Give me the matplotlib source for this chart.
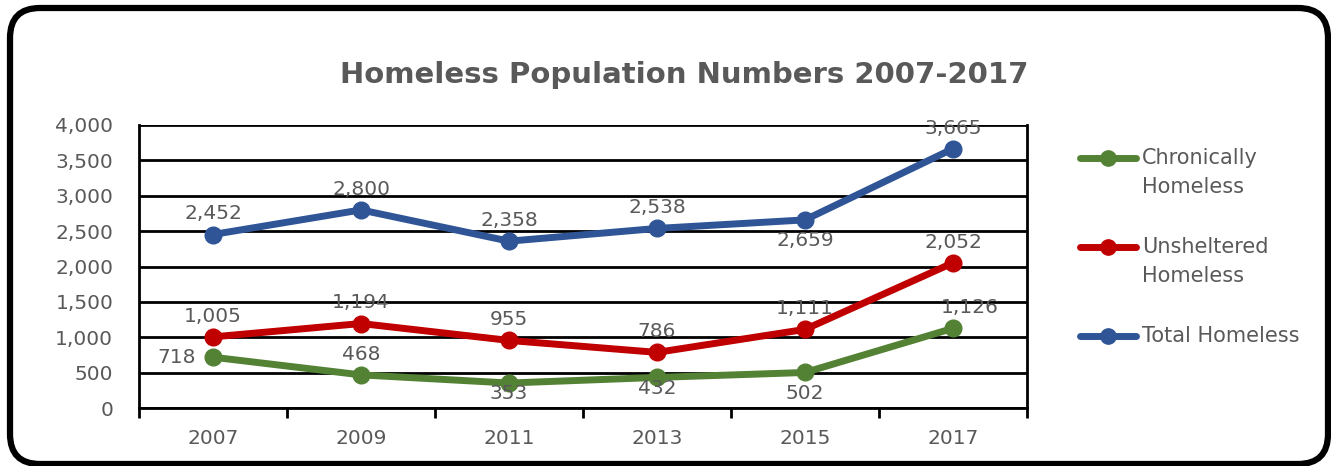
import matplotlib
matplotlib.use("Agg")
import matplotlib.pyplot as plt
from matplotlib.patches import FancyBboxPatch
from matplotlib.lines import Line2D
from matplotlib.transforms import IdentityTransform

years = ["2007", "2009", "2011", "2013", "2015", "2017"]
chronic = [718, 468, 353, 432, 502, 1126]
unsheltered = [1005, 1194, 955, 786, 1111, 2052]
total = [2452, 2800, 2358, 2538, 2659, 3665]
series_names = [["Chronically", "Homeless"], ["Unsheltered", "Homeless"], ["Total Homeless"]]
colors = ["#548235", "#C00000", "#2F5597"]
# data label placement per point
pos_chronic = ["left", "above", "below_close", "below_close", "below", "above_r"]
pos_unsh = ["above"] * 6
pos_total = ["above", "above", "above", "above", "below", "above"]

W, H = 1331, 466
fig = plt.figure(figsize=(W / 100, H / 100), dpi=100)
fig.patch.set_facecolor("white")
GRAY = "#595959"

def py(y_from_top):
    return H - y_from_top

# rounded border (pixel coordinates)
border = FancyBboxPatch((10, py(464)), 1318, 456,
                        boxstyle="round,pad=0,rounding_size=30",
                        transform=IdentityTransform(), fill=False,
                        edgecolor="black", linewidth=4.5)
fig.patches.append(border)

L, R, B, T = 139, 1027, 408, 125
ax = fig.add_axes([L / W, 1 - B / H, (R - L) / W, (B - T) / H])
ax.set_xlim(-0.5, 5.5)
ax.set_ylim(0, 4000)
ax.set_yticks(range(0, 4001, 500))
ax.set_yticklabels([f"{v:,}" for v in range(0, 4001, 500)])
ax.yaxis.grid(True, color="black", linewidth=2)
ax.set_axisbelow(True)
ax.spines["top"].set_visible(False)
for s in ["left", "right", "bottom"]:
    ax.spines[s].set_linewidth(2)
ax.tick_params(axis="y", length=0, pad=18.5, labelsize=14.5, labelcolor=GRAY)
ax.set_xticks([i - 0.5 for i in range(7)])
ax.set_xticklabels([])
ax.tick_params(axis="x", which="major", direction="out", length=7, width=2, color="black")
ax.set_xticks(range(6), minor=True)
ax.set_xticklabels(years, minor=True)
ax.tick_params(axis="x", which="minor", length=0, pad=15, labelsize=14.5, labelcolor=GRAY)

xs = list(range(6))
for vals, col, poss in [(chronic, colors[0], pos_chronic),
                        (unsheltered, colors[1], pos_unsh),
                        (total, colors[2], pos_total)]:
    ax.plot(xs, vals, color=col, linewidth=5, marker="o", markersize=12,
            solid_capstyle="round", clip_on=False, zorder=3)
    for x, v, p in zip(xs, vals, poss):
        if p == "above":
            off, ha, va = (0, 8), "center", "bottom"
        elif p == "above_r":
            off, ha, va = (12, 8), "center", "bottom"
        elif p == "below":
            off, ha, va = (0, -8), "center", "top"
        elif p == "below_close":
            off, ha, va = (0, -1), "center", "top"
        else:
            off, ha, va = (-12, 0), "right", "center"
        ax.annotate(f"{v:,}", (x, v), xytext=off, textcoords="offset points",
                    ha=ha, va=va, fontsize=14.5, color=GRAY, zorder=4)

fig.text((338 + 1030) / 2 / W, 1 - 75 / H, "Homeless Population Numbers 2007-2017",
         ha="center", va="center", fontsize=21, fontweight="bold", color=GRAY,
         fontfamily="DejaVu Sans")

# legend drawn manually in pixel coordinates
leg_y = [158, 247, 336]
for names, col, y in zip(series_names, colors, leg_y):
    fig.add_artist(Line2D([1080 / W, 1136 / W], [py(y) / H, py(y) / H],
                          transform=fig.transFigure, color=col, linewidth=5,
                          solid_capstyle="round"))
    fig.add_artist(Line2D([1108 / W], [py(y) / H], transform=fig.transFigure,
                          color=col, marker="o", markersize=11, linestyle="none"))
    for k, line in enumerate(names):
        fig.text(1142 / W, py(y + 29 * k) / H, line, ha="left", va="center",
                 fontsize=15, color=GRAY)

fig.savefig("out.png", dpi=100)
